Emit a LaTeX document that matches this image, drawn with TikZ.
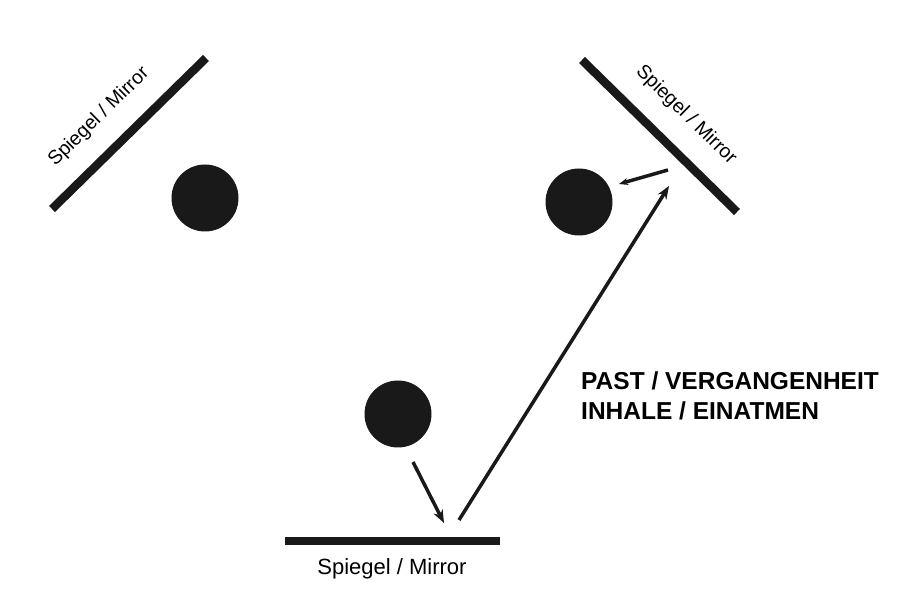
\documentclass[tikz,border=0pt]{standalone}
\usepackage{fontspec}
\setmainfont{Liberation Sans}
\usetikzlibrary{arrows.meta}
\begin{document}
\begin{tikzpicture}[x=1pt,y=-1pt,
  mirror/.style={line width=8.5pt,black!90},
  ball/.style={circle,fill=black!90,minimum size=67pt,inner sep=0pt},
  ray/.style={line width=3.5pt,black!90,-{Stealth[length=13pt,width=10pt]}},
  mlabel/.style={font=\fontsize{19.5}{21}\selectfont,inner sep=0pt},
  big/.style={font=\fontsize{24.5}{30}\bfseries\selectfont,align=left,inner sep=0pt,anchor=north west}]
\useasboundingbox (0,0) rectangle (911,601);
% mirrors
\coordinate (l1) at (52,209); \coordinate (l2) at (206,58);
\coordinate (r1) at (582,60); \coordinate (r2) at (737,212);
\coordinate (b1) at (285,541); \coordinate (b2) at (500,541);
\draw[mirror] (l1) -- (l2);
\draw[mirror] (r1) -- (r2);
\draw[mirror] (b1) -- (b2);
% labels
\node[mlabel,rotate=44.4] (ll) at (99,117) {Spiegel / Mirror};
\node[mlabel,rotate=-44.4] (rl) at (686,115) {Spiegel / Mirror};
\node[mlabel,font=\fontsize{22}{24}\selectfont] (bl) at (392,569) {Spiegel / Mirror};
% balls
\node[ball] (cl) at (205,198) {};
\node[ball] (cr) at (579,202) {};
\node[ball] (cm) at (398,414) {};
% rays
\coordinate (a1s) at (413,462); \coordinate (a1e) at (444,523);
\coordinate (a2s) at (459,520); \coordinate (a2e) at (669,186);
\coordinate (a3s) at (668,170); \coordinate (a3e) at (619,184);
\draw[ray] (a1s) -- (a1e);
\draw[ray] (a2s) -- (a2e);
\draw[ray,-{Stealth[length=9pt,width=7pt]}] (a3s) -- (a3e);
% text
\node[big] (txt) at (581,372) {PAST / VERGANGENHEIT\\INHALE / EINATMEN};
\end{tikzpicture}
\end{document}
